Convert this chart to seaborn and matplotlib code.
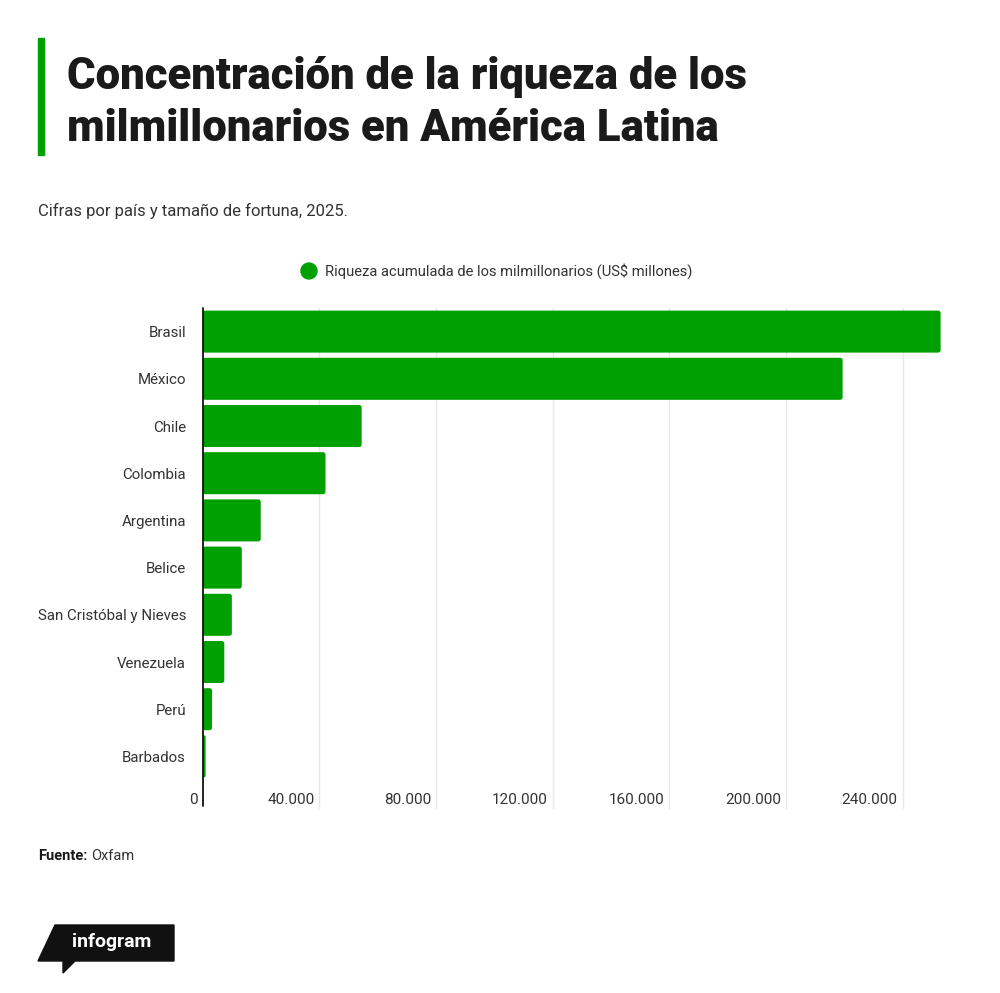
import matplotlib
matplotlib.use("Agg")
import matplotlib.pyplot as plt
import matplotlib.patches as mpatches
from matplotlib.transforms import offset_copy
import seaborn as sns
import pandas as pd

paises = ["Brasil", "México", "Chile", "Colombia", "Argentina", "Belice",
          "San Cristóbal y Nieves", "Venezuela", "Perú", "Barbados"]
riqueza = [253000, 219400, 54500, 42100, 19900, 13400, 10000, 7400, 3200, 1000]
xticks = [0, 40000, 80000, 120000, 160000, 200000, 240000]
xtick_labels = ["0", "40.000", "80.000", "120.000", "160.000", "200.000", "240.000"]

GREEN = "#00a000"
TXT = "#333333"

sns.set_theme(style="white")
plt.rcParams["font.family"] = ["Roboto", "DejaVu Sans"]

W, H = 1000, 993
fig = plt.figure(figsize=(W / 100, H / 100), dpi=100)

def fx(px):
    return px / W

def fy(py):
    return 1 - py / H

ax_left, ax_right = 202.7, 945
ax_top, ax_bot = 308, 780
ax = fig.add_axes([fx(ax_left), fy(ax_bot), fx(ax_right - ax_left), (ax_bot - ax_top) / H])

df = pd.DataFrame({"pais": paises, "riqueza": riqueza})
sns.barplot(data=df, x="riqueza", y="pais", color=GREEN, saturation=1,
            width=0.89, ax=ax, zorder=3)
XMAX = 254500
ax.set_xlim(0, XMAX)
ax.set_ylim(9.5, -0.5)
ax.set_xlabel("")
ax.set_ylabel("")
for s in ["top", "right", "bottom", "left"]:
    ax.spines[s].set_visible(False)

# rounded bar corners (keep geometry from seaborn's bars)
xu = XMAX / (ax_right - ax_left)          # data units per pixel (x)
yu = 10.0 / (ax_bot - ax_top)             # data units per pixel (y)
for p in list(ax.patches):
    x0, y0 = p.get_x(), p.get_y()
    w, h = p.get_width(), p.get_height()
    r = min(2.5 * xu, w / 2.0)
    fb = mpatches.FancyBboxPatch((x0, y0), w, h,
                                 boxstyle=mpatches.BoxStyle("Round", pad=0, rounding_size=r),
                                 mutation_aspect=yu / xu, facecolor=GREEN,
                                 edgecolor="none", zorder=3)
    p.set_visible(False)
    ax.add_patch(fb)

# grid lines extending below the axes
for xv in xticks[1:]:
    ax.axvline(xv, ymin=-0.06, ymax=1, color="#e8e8e8", lw=1, zorder=0, clip_on=False)
ax.axvline(0, ymin=-0.055, ymax=1.0, color="#111111", lw=1.3, zorder=5, clip_on=False)

ax.set_xticks(xticks)
ax.set_xticklabels(xtick_labels, fontsize=11, color=TXT)
ax.tick_params(axis="x", length=0, pad=9)
for lbl in ax.get_xticklabels():
    lbl.set_horizontalalignment("right")
    lbl.set_transform(offset_copy(lbl.get_transform(), fig=fig, x=-5, y=0, units="dots"))

ax.tick_params(axis="y", length=0, pad=12)
for lbl in ax.get_yticklabels():
    lbl.set_fontsize(10.8)
    lbl.set_color(TXT)

# title block
fig.patches.append(mpatches.Rectangle((fx(38), fy(155)), fx(6), (155 - 38) / H,
                                      transform=fig.transFigure, color=GREEN))
fig.text(fx(67), fy(77), "Concentración de la riqueza de los", fontsize=31.5,
         fontweight="heavy", color="#1a1a1a", va="center", ha="left")
fig.text(fx(67), fy(129), "milmillonarios en América Latina", fontsize=31.5,
         fontweight="heavy", color="#1a1a1a", va="center", ha="left")
fig.text(fx(38), fy(211), "Cifras por país y tamaño de fortuna, 2025.", fontsize=12,
         color=TXT, va="center", ha="left")

# legend
fig.patches.append(mpatches.Circle((fx(309), fy(271)), 8 / W, transform=fig.transFigure,
                                   color=GREEN))
fig.text(fx(325), fy(271), "Riqueza acumulada de los milmillonarios (US$ millones)",
         fontsize=10.6, color=TXT, va="center", ha="left")

# source
t = fig.text(fx(38), fy(856), "Fuente:", fontsize=10.5, fontweight="bold",
             color="#1a1a1a", va="center", ha="left")
fig.canvas.draw()
bb = t.get_window_extent()
fig.text(bb.x1 / W + fx(4), fy(856), "Oxfam", fontsize=10.5, color=TXT,
         va="center", ha="left")

# infogram logo
pts = [(55, 925), (174, 925), (174, 961), (75, 961), (63, 973), (63, 961), (38, 961)]
fig.patches.append(mpatches.Polygon([(fx(x), fy(y)) for x, y in pts], closed=True,
                                    transform=fig.transFigure, color="#111111"))
fig.text(fx(112), fy(942), "infogram", fontsize=14, fontweight="bold", color="white",
         va="center", ha="center", fontstretch="condensed")

fig.savefig("out.png", dpi=100, facecolor="white")
